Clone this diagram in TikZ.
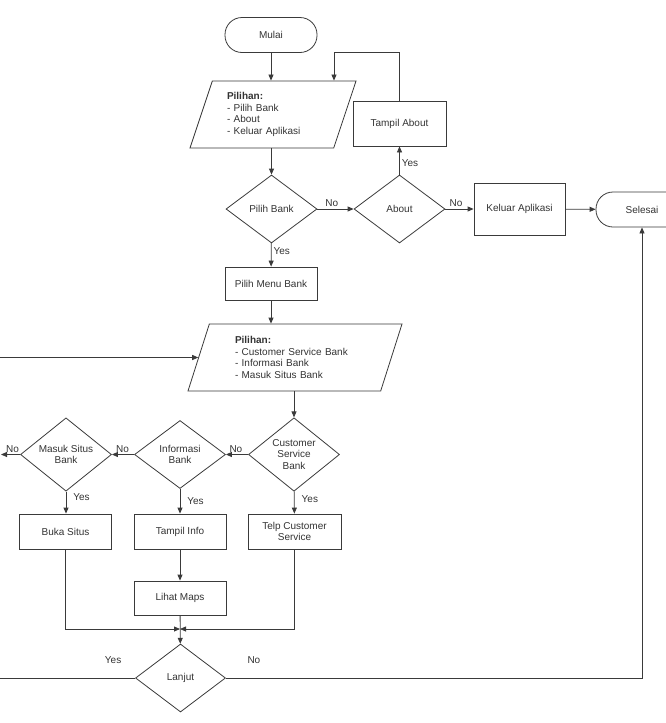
\documentclass[tikz,border=0pt]{standalone}
\usepackage{fontspec}
\setmainfont{Liberation Sans}
\usetikzlibrary{arrows.meta,shapes.geometric,calc}
\definecolor{lnC}{HTML}{3A3A3A}
\definecolor{txC}{HTML}{333333}

\tikzset{
  base/.style={draw=lnC,line width=0.8pt,text=txC,font=\fontsize{10}{11.5}\selectfont},
  term/.style={base,rectangle,rounded corners=17pt,minimum width=92pt,minimum height=35pt},
  proc/.style={base,rectangle,minimum width=92pt,align=center},
  decis/.style={base,diamond,minimum width=91pt,minimum height=68pt,inner sep=0pt,align=center},
  inp/.style={base,trapezium,trapezium left angle=63,trapezium right angle=117,
    trapezium stretches body,minimum height=67pt,inner sep=0pt,align=left},
  lbl/.style={text=txC,font=\fontsize{10}{12}\selectfont,inner sep=2pt},
  flow/.style={draw=lnC,line width=0.8pt,-{Triangle[length=6pt,width=5pt]}}
}

\begin{document}
\begin{tikzpicture}[x=1pt,y=-1pt]
  \useasboundingbox (0,0) rectangle (666,723);
  \clip (0,0) rectangle (666,723);

  % upper part: main menu
  \node[term] (start) at (271,35) {Mulai};
  \node[inp,minimum width=166pt,text width=92pt] (pil1) at (273,114.5)
    {\textbf{Pilihan:}\\- Pilih Bank\\- About\\- Keluar Aplikasi};
  \node[proc,minimum width=93pt,minimum height=45pt] (tabout) at (399.5,123.5) {Tampil About};
  \node[decis] (pbank) at (271.5,209) {Pilih Bank};
  \node[decis] (about) at (399.5,209) {About};
  \node[proc,minimum width=91pt,minimum height=52pt] (exit) at (519.5,209) {Keluar Aplikasi};
  \node[term] (stop) at (642,209.5) {Selesai};
  \node[proc,minimum height=33pt] (menu) at (271,283.5) {Pilih Menu Bank};
  \coordinate (back) at (334,52);

  % bank menu
  \node[inp,minimum width=214pt,text width=120pt] (pil2) at (295,357.5)
    {\textbf{Pilihan:}\\- Customer Service Bank\\- Informasi Bank\\- Masuk Situs Bank};
  \node[decis] (cs) at (294,454.5) {Customer\\Service\\Bank};
  \node[decis] (info) at (180,454.5) {Informasi\\Bank};
  \node[decis] (situs) at (66,454.5) {Masuk Situs\\Bank};
  \coordinate (out) at (1,454.5);
  \node[proc,minimum height=35pt] (buka) at (65.5,531.5) {Buka Situs};
  \node[proc,minimum height=35pt] (tinfo) at (180,531.5) {Tampil Info};
  \node[proc,minimum height=35pt,minimum width=93pt] (telp) at (294.5,531.5) {Telp Customer\\Service};
  \node[proc,minimum height=34pt] (maps) at (180,598) {Lihat Maps};
  \coordinate (join) at (180,629);
  \node[decis,minimum width=90pt] (lanjut) at (180.5,678) {Lanjut};
  \node[lbl] (yesL) at ($(lanjut.west)+(-22,-18)$) {Yes};
  \node[lbl] (noL) at ($(lanjut.east)+(28,-18)$) {No};
  \coordinate (loop) at (-4,678);

  % connectors
  \draw[flow] (start) -- (start |- pil1.north);
  \draw[flow] (pbank |- pil1.south) -- (pbank);
  \draw[flow] (pbank) -- node[lbl,above,pos=0.4] (no1) {No} (about);
  \draw[flow] (about) -- node[lbl,right,pos=0.4] (yes1) {Yes} (tabout);
  \draw[flow] (about) -- node[lbl,above,pos=0.38] (no2) {No} (exit);
  \draw[flow] (exit) -- (stop);
  \draw[flow] (tabout.north) |- (back) -- (back |- pil1.north);
  \draw[flow] (pbank) -- node[lbl,right,pos=0.35] (yes2) {Yes} (menu);
  \draw[flow] (menu) -- (menu |- pil2.north);
  \draw[flow] (cs |- pil2.south) -- (cs);
  \draw[flow] (cs) -- node[lbl,above,pos=0.55] (no3) {No} (info);
  \draw[flow] (info) -- node[lbl,above,pos=0.52] (no4) {No} (situs);
  \draw[flow] (situs) -- node[lbl,above,pos=0.4] (no5) {No} (out);
  \draw[flow] (cs) -- node[lbl,right=5pt,pos=0.35] (yes3) {Yes} (telp);
  \draw[flow] (info) -- node[lbl,right=5pt,pos=0.5] (yes4) {Yes} (tinfo);
  \draw[flow] (situs) -- node[lbl,right=5pt,pos=0.23] (yes5) {Yes} (situs |- buka.north);
  \draw[flow] (tinfo) -- (maps);
  \draw[flow] (buka) |- (join);
  \draw[flow] (telp) |- (join);
  \draw[flow] (maps) -- (lanjut);
  \draw[flow] (lanjut) -| (stop);
  \draw[flow] (lanjut.west) -- (loop) |- (pil2);
\end{tikzpicture}
\end{document}
